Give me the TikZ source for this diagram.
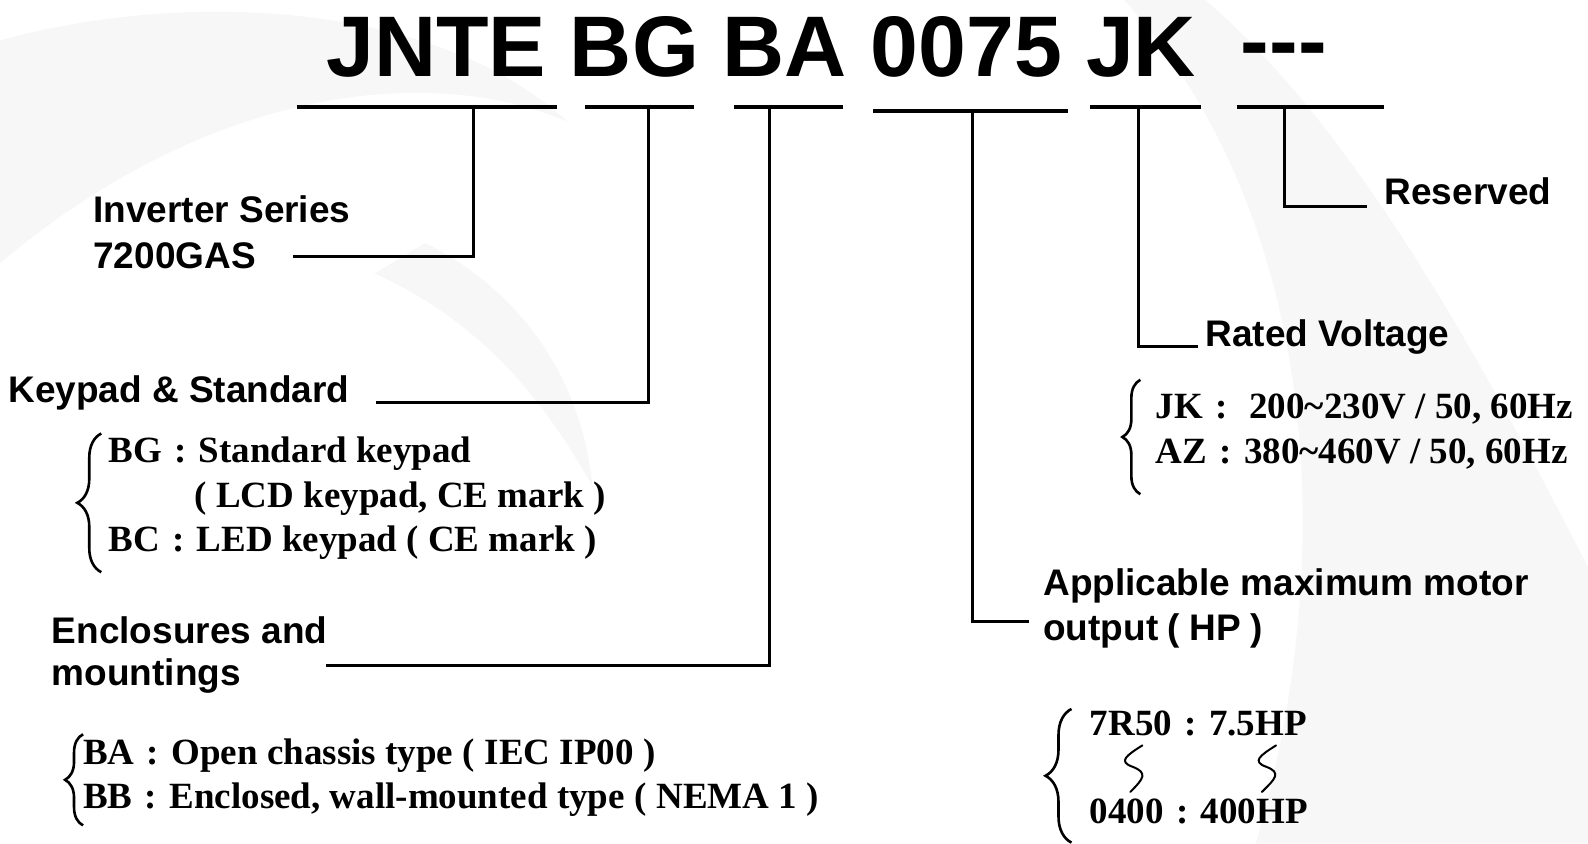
\documentclass[tikz,border=0pt]{standalone}
\usepackage{fontspec}
\setmainfont{Liberation Serif}
\setsansfont{Liberation Sans}
\usetikzlibrary{decorations.pathreplacing,backgrounds}
\newcommand{\fwcolon}{\makebox[1em]{:}}
\newcommand{\fwlp}{\makebox[0.85em]{(}}
\newcommand{\fwrp}{\makebox[0.85em]{)}}
\newcommand{\tld}{\char"7E\relax}

\begin{document}
\begin{tikzpicture}[x=1.01276pt,y=-1.01276pt]
  \tikzset{
  code_txt/.style = {font=\sffamily\bfseries\fontsize{86}{90}\selectfont,
    inner sep=0pt, anchor=base west},
  lbl_sf/.style = {font=\sffamily\bfseries\fontsize{37}{44}\selectfont,
    inner sep=0pt, anchor=base west},
  lbl_rm/.style = {font=\rmfamily\bfseries\fontsize{37}{44}\selectfont,
    inner sep=0pt, anchor=base west},
  bar_u/.style = {line width=4pt},% underline below a code
  bar_l/.style = {line width=3pt},% leader to a label
  brc/.style = {decorate, decoration={brace, amplitude=#1}, line width=2.6pt},
  wave/.style = {line width=2pt, line cap=round, line join=round},
  wmark/.style = {fill=gray!6, draw=none}
}
\useasboundingbox (0,0) rectangle (1568,833);
\fill[white] (0,0) rectangle (1568,833);

% faint watermark
\fill[wmark] (0,40) .. controls (180,-10) and (430,0) .. (560,120)
  .. controls (420,60) and (200,90) .. (0,260) -- cycle;
\fill[wmark] (420,240) .. controls (520,290) and (575,380) .. (585,480)
  .. controls (540,400) and (480,320) .. (370,270) -- cycle;
\fill[wmark] (1110,0) .. controls (1290,200) and (1330,520) .. (1240,833)
  -- (1568,833) -- (1568,560) .. controls (1450,330) and (1330,120) .. (1190,0) -- cycle;

% type code
\node[code_txt] (code) at (322,76) {JNTE BG BA 0075 JK\hspace{0.52em}\raisebox{6pt}{-{}-{}-}};

% underlines
\coordinate (u1w) at (293,106); \coordinate (u1e) at (550,106);
\coordinate (u2w) at (578,106); \coordinate (u2e) at (685,106);
\coordinate (u3w) at (725,106); \coordinate (u3e) at (832,106);
\coordinate (u4w) at (862,110); \coordinate (u4e) at (1055,110);
\coordinate (u5w) at (1076,106); \coordinate (u5e) at (1186,106);
\coordinate (u6w) at (1221,106); \coordinate (u6e) at (1367,106);
\draw[bar_u] (u1w) -- (u1e);
\draw[bar_u] (u2w) -- (u2e);
\draw[bar_u] (u3w) -- (u3e);
\draw[bar_u] (u4w) -- (u4e);
\draw[bar_u] (u5w) -- (u5e);
\draw[bar_u] (u6w) -- (u6e);

% labels
\node[lbl_sf] (series) at (92,220) {Inverter Series};
\node[lbl_sf] (series2) at (92,265) {7200GAS};
\node[lbl_sf] (keypad) at (8,397) {Keypad \& Standard};
\node[lbl_sf] (encl) at (51,635) {Enclosures and};
\node[lbl_sf] (encl2) at (51,677) {mountings};
\node[lbl_sf] (power) at (1030,588) {Applicable maximum motor};
\node[lbl_sf] (power2) at (1030,632) {output\fwlp HP\fwrp};
\node[lbl_sf] (volt) at (1190,342) {Rated Voltage};
\node[lbl_sf] (resv) at (1367,202) {Reserved};

% leaders
\coordinate (u1s) at (468,106); \coordinate (h1) at (289,253);
\coordinate (u2s) at (640,106); \coordinate (h2) at (371,397);
\coordinate (u3s) at (760,106); \coordinate (h3) at (322,657);
\coordinate (u4s) at (960,110); \coordinate (h4) at (1016,614);
\coordinate (u5s) at (1124,106); \coordinate (h5) at (1183,342);
\coordinate (u6s) at (1268,106); \coordinate (h6) at (1350,204);
\draw[bar_l] (u1s) |- (h1);
\draw[bar_l] (u2s) |- (h2);
\draw[bar_l] (u3s) |- (h3);
\draw[bar_l] (u4s) |- (h4);
\draw[bar_l] (u5s) |- (h5);
\draw[bar_l] (u6s) |- (h6);

% options
\draw[brc=24pt] (100,565) -- (100,428);
\node[lbl_rm] (bg) at (107,457) {BG\fwcolon Standard keypad};
\node[lbl_rm] (bg2) at (192,501) {( LCD keypad, CE mark )};
\node[lbl_rm] (bc) at (107,545) {BC\fwcolon LED keypad ( CE mark )};

\draw[brc=18pt] (82,815) -- (82,725);
\node[lbl_rm] (ba) at (82,755) {BA\fwcolon Open chassis type\fwlp IEC IP00\fwrp};
\node[lbl_rm] (bb) at (82,798) {BB\fwcolon Enclosed, wall-mounted type\fwlp NEMA 1\fwrp};

\draw[brc=18pt] (1126,488) -- (1126,375);
\node[lbl_rm] (jk) at (1141,413) {JK\fwcolon\ 200\tld 230V / 50, 60Hz};
\node[lbl_rm] (az) at (1141,458) {AZ\fwcolon 380\tld 460V / 50, 60Hz};

\draw[brc=26pt] (1058,832) -- (1058,700);
\node[lbl_rm] (hp1) at (1076,726) {7R50\fwcolon 7.5HP};
\node[lbl_rm] (hp2) at (1076,813) {0400\fwcolon 400HP};
\draw[wave] (1128,736) .. controls (1112,746) and (1104,752) .. (1118,757)
  .. controls (1134,763) and (1129,769) .. (1116,782);
\draw[wave] (1260,736) .. controls (1244,746) and (1236,752) .. (1250,757)
  .. controls (1266,763) and (1259,769) .. (1246,782);
\end{tikzpicture}
\end{document}
